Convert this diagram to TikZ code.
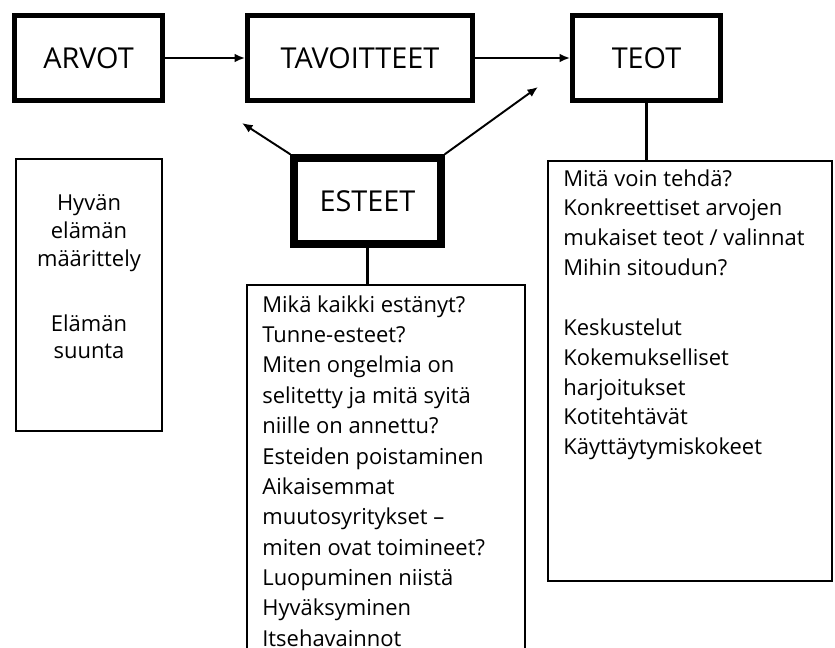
\documentclass[tikz,border=0pt]{standalone}
\usepackage{fontspec}
\setmainfont{Open Sans}
\usetikzlibrary{arrows.meta}

\begin{document}
\begin{tikzpicture}[x=0.02cm, y=-0.02cm,
	otsikko/.style={draw, line width=2.8pt, font=\fontsize{16.4}{20}\selectfont, minimum height=1.7cm},
	laatikko/.style={draw, line width=1.2pt},
	teksti/.style={font=\fontsize{12.5}{17}\selectfont, align=left, inner sep=0pt},
	nuoli/.style={-{Latex[length=6pt, width=5pt]}, line width=1.1pt}]
					\useasboundingbox (0,0) rectangle (835,648);
					
					% ylarivi
					\node[otsikko, minimum width=2.96cm] (arvot) at (88.5,58) {ARVOT};
					\node[otsikko, minimum width=4.5cm] (tavoitteet) at (360,58) {TAVOITTEET};
					\node[otsikko, minimum width=2.96cm] (teot) at (646.5,58) {TEOT};
					\node[otsikko, line width=4.2pt, minimum width=2.94cm, minimum height=1.72cm] (esteet) at (367.5,201) {ESTEET};
					
					\draw[nuoli] (arvot) -- (tavoitteet);
					\draw[nuoli] (tavoitteet) -- (teot);
					
					% esteiden nuolet
					\coordinate (vasen) at (242,123);
					\coordinate (oikea) at (538,87);
					\draw[nuoli] (esteet.north west) -- (vasen);
					\draw[nuoli] (esteet.north east) -- (oikea);
					
					% laatikot
					\node[laatikko, minimum width=2.92cm, minimum height=5.44cm] (arvobox) at (89,295) {};
					\node[laatikko, minimum width=5.68cm, minimum height=8.4cm] (teobox) at (690,371) {};
					\node[laatikko, minimum width=5.56cm, minimum height=8.4cm] (estebox) at (386,495) {};
					
					\draw[line width=1.2pt] (teot.south) -- (teot.south |- teobox.north);
					\draw[line width=1.2pt] (esteet.south) -- (esteet.south |- estebox.north);
					
					\node[teksti, align=center, font=\fontsize{12.5}{15.9}\selectfont, anchor=north] (arvotxt) at (89,194)
						{Hyvän\\elämän\\määrittely\\[21pt]Elämän\\suunta};
					\node[teksti, anchor=north west] (teotxt) at (563,169)
						{Mitä voin tehdä?\\Konkreettiset arvojen\\mukaiset teot / valinnat\\Mihin sitoudun?\\[17pt]Keskustelut\\Kokemukselliset\\harjoitukset\\Kotitehtävät\\Käyttäytymiskokeet};
					\node[teksti, font=\fontsize{12.5}{17.3}\selectfont, anchor=north west] (estetxt) at (262,295)
						{Mikä kaikki estänyt?\\Tunne-esteet?\\Miten ongelmia on\\selitetty ja mitä syitä\\niille on annettu?\\Esteiden poistaminen\\Aikaisemmat\\muutosyritykset –\\miten ovat toimineet?\\Luopuminen niistä\\Hyväksyminen\\Itsehavainnot};
				\end{tikzpicture}
\end{document}
